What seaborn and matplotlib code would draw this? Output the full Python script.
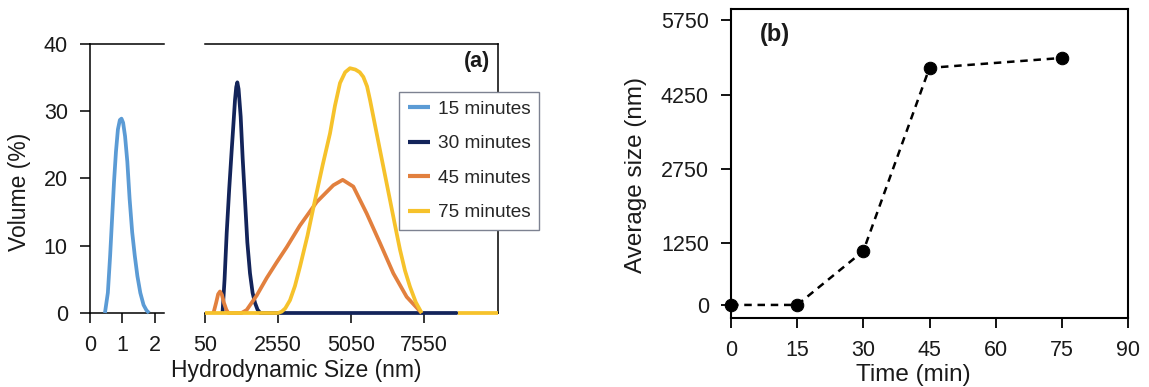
import numpy as np
import pandas as pd
import matplotlib
matplotlib.use("Agg")
import matplotlib.pyplot as plt
import seaborn as sns

# ---------------- data: panel (a) ----------------
size_15 = [0.46, 0.55, 0.62, 0.68, 0.74, 0.80, 0.86, 0.92, 0.97, 1.02, 1.08, 1.15,
           1.22, 1.30, 1.38, 1.46, 1.55, 1.65, 1.74, 1.82]
vol_15 = [0, 3, 8.5, 14, 19.5, 24, 27.3, 28.7, 28.9, 28.3, 26.3, 22.5,
          17, 12, 8.5, 5.5, 3, 1.2, 0.4, 0]

size_30 = [650, 720, 793, 880, 964, 1030, 1078, 1120, 1157, 1200, 1272, 1340,
           1420, 1500, 1591, 1680, 1763, 1850, 1940, 8700]
vol_30 = [0, 5, 11.9, 18.5, 24.2, 28.5, 31.7, 33.6, 34.3, 33.3, 29.2, 23,
          16.8, 10.5, 5.9, 3, 1.5, 0.5, 0, 0]

size_45 = [340, 430, 500, 564, 630, 700, 780, 850, 1300, 1478, 1820, 2163, 2500,
           2850, 3300, 3875, 4446, 4766, 5130, 5588, 6044, 6500, 6957, 7470]
vol_45 = [0, 1.5, 2.8, 3.2, 2.7, 1.5, 0.5, 0, 0, 0.45, 2.6, 5.2, 7.5,
          9.8, 13, 16.5, 19.0, 19.8, 18.8, 14.8, 10.4, 5.9, 2.4, 0]

size_75 = [50, 2550, 2676, 2800, 2961, 3130, 3304, 3560, 3818, 4080, 4331, 4500,
           4674, 4850, 5016, 5200, 5350, 5473, 5600, 5701, 5870, 6044, 6215,
           6386, 6560, 6729, 6900, 7071, 7270, 7471]
vol_75 = [0, 0, 0.2, 0.7, 1.9, 4, 6.9, 11.5, 16.8, 22, 26.7, 30.8,
          34.2, 35.8, 36.4, 36.2, 35.8, 35.1, 33.7, 31.7, 28, 24.2, 20.5,
          16.8, 13, 9.4, 6.3, 3.9, 1.6, 0]
size_75_tail = [8700, 10085]
vol_75_tail = [0, 0]

series_labels = ["15 minutes", "30 minutes", "45 minutes", "75 minutes"]
left_xticks = [0, 1, 2]
right_xticks = [50, 2550, 5050, 7550]
a_yticks = [0, 10, 20, 30, 40]

# ---------------- data: panel (b) ----------------
times = [0, 15, 30, 45, 75]
avg_size = [1, 1, 1090, 4790, 4990]
b_xticks = [0, 15, 30, 45, 60, 75, 90]
b_yticks = [0, 1250, 2750, 4250, 5750]

# ---------------- style ----------------
sns.set_theme(style="white")
plt.rcParams["font.family"] = ["Liberation Sans", "DejaVu Sans"]
plt.rcParams["axes.linewidth"] = 1.1

W, H = 1149, 387
fig = plt.figure(figsize=(W / 100, H / 100), dpi=100)

def fx(px):
    return px / W

def fy(py):
    return 1 - py / H

c15, c30, c45, c75 = "#5B9BD5", "#13245A", "#E2803E", "#F6C22B"
lw = 2.7
txt = "#1a1a1a"

ax1 = fig.add_axes([fx(90), fy(313), fx(74), (313 - 44) / H])
ax2 = fig.add_axes([fx(205), fy(313), fx(293), (313 - 44) / H], sharey=ax1)
ax3 = fig.add_axes([fx(731), fy(318), fx(397), (318 - 9) / H])

# panel (a) curves
sns.lineplot(x=size_15, y=vol_15, ax=ax1, color=c15, linewidth=lw,
             estimator=None, sort=False, label=series_labels[0])
sns.lineplot(x=size_30, y=vol_30, ax=ax2, color=c30, linewidth=lw,
             estimator=None, sort=False, label=series_labels[1])
sns.lineplot(x=size_45, y=vol_45, ax=ax2, color=c45, linewidth=lw,
             estimator=None, sort=False, label=series_labels[2])
sns.lineplot(x=size_75, y=vol_75, ax=ax2, color=c75, linewidth=lw,
             estimator=None, sort=False, label=series_labels[3])
sns.lineplot(x=size_75_tail, y=vol_75_tail, ax=ax2, color=c75, linewidth=lw,
             estimator=None, sort=False)

for ax in (ax1, ax2):
    for i, ln in enumerate(ax.get_lines()):
        ln.set_clip_on(False)
        ln.set_zorder(3 + i * 0.01)
        ln.set_solid_capstyle("butt")
        ln.set_solid_joinstyle("round")

h1, l1 = ax1.get_legend_handles_labels()
h2, l2 = ax2.get_legend_handles_labels()
for ax in (ax1, ax2):
    if ax.get_legend() is not None:
        ax.get_legend().remove()

ax1.set_xlim(0, 2.28)
ax2.set_xlim(50, 10085)
ax1.set_ylim(0, 40)
ax1.set_xticks(left_xticks)
ax2.set_xticks(right_xticks)
ax1.set_yticks(a_yticks)

for ax in (ax1, ax2):
    ax.set_xlabel("")
    ax.set_ylabel("")
    for s in ax.spines.values():
        s.set_color("black")
        s.set_linewidth(1.1)
    ax.tick_params(axis="both", direction="out", length=7, width=1.1,
                   color="black", labelsize=15.5, labelcolor=txt, pad=9)
ax1.spines["right"].set_visible(False)
ax2.spines["left"].set_visible(False)
ax1.tick_params(axis="x", bottom=True)
ax1.tick_params(axis="y", left=True)
ax2.tick_params(axis="x", bottom=True)
ax2.tick_params(axis="y", left=False, labelleft=False)

leg = fig.legend(h1 + h2, l1 + l2, loc="upper left",
                 bbox_to_anchor=(fx(399), fy(92)), frameon=True, fancybox=False,
                 edgecolor="#7d8291", facecolor="white", framealpha=1,
                 fontsize=13.7, handlelength=1.2, handletextpad=0.4,
                 borderpad=0.45, labelspacing=0.9, borderaxespad=0)
for lh in leg.get_lines():
    lh.set_linewidth(3.0)

fig.text(fx(477), fy(62), "(a)", ha="center", va="center",
         fontsize=15.5, fontweight="bold", color=txt)
fig.text(fx(296), fy(371), "Hydrodynamic Size (nm)", ha="center", va="center",
         fontsize=16.5, color=txt)
fig.text(fx(20), fy(192), "Volume (%)", ha="center", va="center",
         rotation=90, fontsize=16.5, color=txt)

# panel (b)
sns.lineplot(x=times, y=avg_size, ax=ax3, color="black", linewidth=1.8,
             marker="o", markersize=9, markeredgecolor="black",
             markerfacecolor="black", estimator=None, sort=False)
for ln in ax3.get_lines():
    ln.set_linestyle((0, (3.0, 2.3)))
    ln.set_clip_on(False)
    ln.set_zorder(3)
if ax3.get_legend() is not None:
    ax3.get_legend().remove()

ax3.set_xlim(0, 90)
ax3.set_ylim(-263, 5979)
ax3.set_xticks(b_xticks)
ax3.set_yticks(b_yticks)
ax3.set_xlabel("")
ax3.set_ylabel("")
for s in ax3.spines.values():
    s.set_color("black")
    s.set_linewidth(1.5)
ax3.tick_params(axis="both", direction="out", length=7, width=1.3,
                color="black", labelsize=15.5, labelcolor=txt, pad=9)
ax3.tick_params(axis="x", bottom=True)
ax3.tick_params(axis="y", left=True)

fig.text(fx(775), fy(35), "(b)", ha="center", va="center",
         fontsize=17, fontweight="bold", color=txt)
fig.text(fx(913), fy(375), "Time (min)", ha="center", va="center",
         fontsize=17.5, color=txt)
fig.text(fx(636), fy(175), "Average size (nm)", ha="center", va="center",
         rotation=90, fontsize=17.5, color=txt)

fig.savefig("out.png", dpi=100, facecolor="white")
